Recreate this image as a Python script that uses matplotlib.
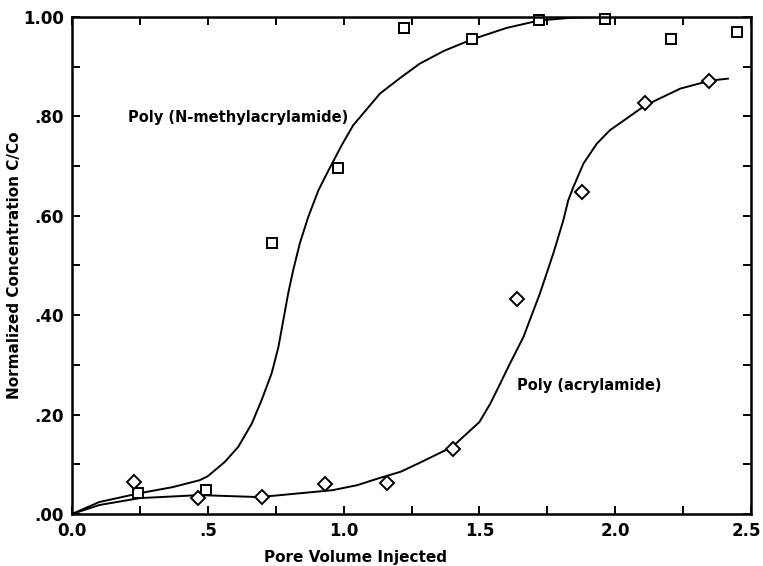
import matplotlib.pyplot as plt
from matplotlib.ticker import MultipleLocator, FixedLocator, FixedFormatter
from matplotlib.transforms import ScaledTranslation

# measured points, Poly(N-methylacrylamide) (squares)
nma_x = [0.243, 0.493, 0.736, 0.979, 1.222, 1.473, 1.720, 1.962, 2.205, 2.449]
nma_y = [0.042, 0.048, 0.545, 0.697, 0.977, 0.955, 0.993, 0.995, 0.955, 0.969]

# measured points, Poly(acrylamide) (diamonds)
pam_x = [0.228, 0.464, 0.700, 0.930, 1.160, 1.403, 1.638, 1.878, 2.110, 2.347]
pam_y = [0.064, 0.032, 0.034, 0.060, 0.062, 0.131, 0.432, 0.647, 0.826, 0.872]

# fitted curves
nma_curve_x = [0, 0.10, 0.25, 0.37, 0.47, 0.50, 0.563, 0.612, 0.662, 0.698, 0.735, 0.760,
               0.778, 0.796, 0.815, 0.839, 0.870, 0.907, 0.944, 0.993, 1.035, 1.134, 1.21,
               1.28, 1.37, 1.473, 1.60, 1.72, 1.85, 1.96, 2.0]
nma_curve_y = [0, 0.024, 0.042, 0.054, 0.068, 0.076, 0.105, 0.135, 0.182, 0.229, 0.283, 0.336,
               0.390, 0.444, 0.492, 0.545, 0.598, 0.651, 0.691, 0.742, 0.782, 0.846, 0.878,
               0.906, 0.932, 0.955, 0.978, 0.993, 0.999, 1.0, 1.0]

pam_curve_x = [0, 0.10, 0.25, 0.47, 0.69, 0.96, 1.05, 1.13, 1.21, 1.28, 1.40, 1.50, 1.54,
               1.57, 1.61, 1.662, 1.723, 1.772, 1.809, 1.827, 1.846, 1.883, 1.932, 1.98,
               2.04, 2.11, 2.24, 2.35, 2.415]
pam_curve_y = [0, 0.018, 0.032, 0.038, 0.034, 0.048, 0.058, 0.072, 0.085, 0.103, 0.135, 0.185, 0.222,
               0.255, 0.300, 0.356, 0.444, 0.524, 0.591, 0.631, 0.658, 0.705, 0.745, 0.772,
               0.795, 0.822, 0.856, 0.872, 0.876]

x_ticks = [0.0, 0.5, 1.0, 1.5, 2.0, 2.5]
x_labels = ["0.0", ".5", "1.0", "1.5", "2.0", "2.5"]
y_ticks = [0.0, 0.2, 0.4, 0.6, 0.8, 1.0]
y_labels = [".00", ".20", ".40", ".60", ".80", "1.00"]

fig = plt.figure(figsize=(7.63, 5.66), dpi=100)
ax = fig.add_axes([72/763, 1 - 514/566, 679/763, 497/566])

ax.plot(nma_curve_x, nma_curve_y, color="black", lw=1.4, solid_joinstyle="round")
ax.plot(pam_curve_x, pam_curve_y, color="black", lw=1.4, solid_joinstyle="round")
ax.plot(nma_x, nma_y, ls="none", marker="s", ms=7.5, mfc="white", mec="black", mew=1.4, clip_on=False)
ax.plot(pam_x, pam_y, ls="none", marker="D", ms=7.2, mfc="white", mec="black", mew=1.4, clip_on=False)

ax.text(0.206, 0.798, "Poly (N-methylacrylamide)", fontsize=10.5, fontweight="bold", va="center")
ax.text(1.638, 0.259, "Poly (acrylamide)", fontsize=10.5, fontweight="bold", va="center")

ax.set_xlim(0, 2.5)
ax.set_ylim(0, 1.0)
ax.xaxis.set_major_locator(FixedLocator(x_ticks))
ax.xaxis.set_major_formatter(FixedFormatter(x_labels))
ax.yaxis.set_major_locator(FixedLocator(y_ticks))
ax.yaxis.set_major_formatter(FixedFormatter(y_labels))
ax.xaxis.set_minor_locator(MultipleLocator(0.25))
ax.yaxis.set_minor_locator(MultipleLocator(0.1))
ax.tick_params(which="both", direction="in", top=True, right=True, length=6, width=1.4)
ax.tick_params(labelsize=12, pad=6)
for lab in ax.get_xticklabels() + ax.get_yticklabels():
    lab.set_fontweight("bold")
# keep the last x label inside the canvas
last = ax.get_xticklabels()[-1]
last.set_transform(last.get_transform() + ScaledTranslation(-5/100, 0, fig.dpi_scale_trans))
for s in ax.spines.values():
    s.set_linewidth(1.8)

ax.set_xlabel("Pore Volume Injected", fontsize=11, fontweight="bold")
ax.xaxis.set_label_coords(0.417, -0.088)
ax.xaxis.label.set_va("center")
ax.set_ylabel("Normalized Concentration C/Co", fontsize=11, fontweight="bold")
ax.yaxis.set_label_coords(-0.084, 0.5)
ax.yaxis.label.set_va("center")

fig.savefig("out.png", dpi=100)
